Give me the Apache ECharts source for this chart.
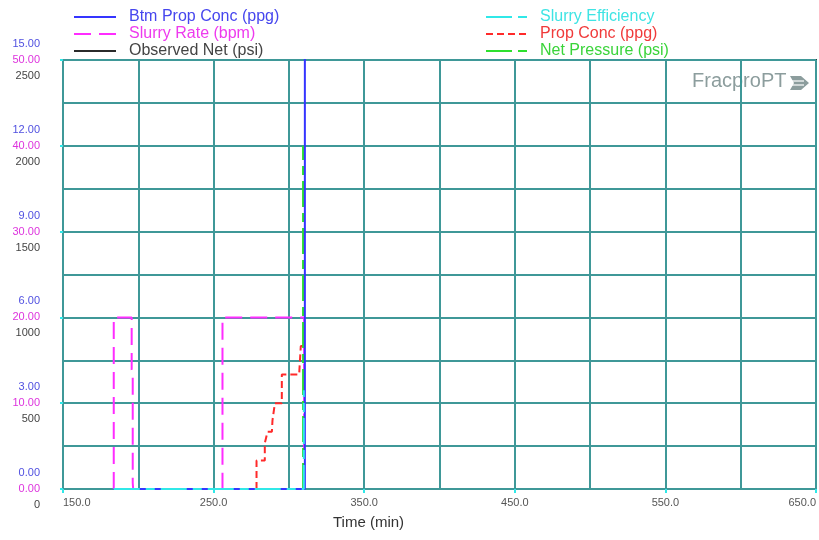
<!DOCTYPE html>
<html>
<head>
<meta charset="utf-8">
<script src="https://cdn.jsdelivr.net/npm/echarts@6/dist/echarts.min.js"></script>
<style>html,body{margin:0;padding:0;background:#fff}#c{width:819px;height:540px}</style>
</head>
<body>
<div id="c"></div>
<script>
// ---- Data (time in minutes) ----
const xTicks = [150, 650];               // time axis range, labels every 100
const rateTicks = [0, 50];               // Slurry Rate (bpm)
const concTicks = [0, 15];               // Btm Prop Conc / Prop Conc (ppg)
const pressTicks = [0, 2500];            // Net Pressure / Observed Net (psi)

const btmPropConc = [[183.7, 0], [310.6, 0], [310.6, 15.5]];
const slurryRate = [[183.7, 0], [183.7, 20], [195.6, 20], [195.6, 13.9], [196.3, 13.6], [196.3, 0.7], [196.6, 0],
                    [255.9, 0], [255.9, 20], [310.1, 20], [310.1, 0]];
const observedNet = [];
const slurryEfficiency = [[183.7, 0], [309.9, 0], [309.9, 23]];
const propConc = [[278.5, 0], [278.5, 1.0], [284.0, 1.0], [284.0, 1.6], [285.8, 2.0], [288.7, 2.0], [289.1, 2.4],
                  [290.7, 3.0], [295.3, 3.0], [295.3, 4.0], [306.8, 4.0], [307.9, 5.0], [309.6, 5.0]];
const netPressure = [[309.4, 0], [309.4, 2000]];

const C = {
  blue: '#3535ff', magenta: '#ff2cff', black: '#2a2a2a',
  cyan: '#30e8e8', red: '#ff2a2a', green: '#2ee02e', grid: '#3f9898'
};

const chart = echarts.init(document.getElementById('c'), null, {renderer: 'canvas'});

const gridLine = {show: true, lineStyle: {color: C.grid, width: 2}};
const font = 'Liberation Sans, Arial';

const option = {
  animation: false,
  grid: {left: 63, right: 1, top: 60, bottom: 51, show: true, borderColor: '#3a3a3a', borderWidth: 2, containLabel: false},
  legend: [
    {
      orient: 'vertical', left: 68, top: 4, itemWidth: 42, itemHeight: 12, itemGap: 1,
      textStyle: {fontSize: 16, fontFamily: font, padding: [0, 0, 0, 8]},
      itemStyle: {opacity: 0},
      selectedMode: false,
      data: [
        {name: 'Btm Prop Conc (ppg)', textStyle: {color: '#4646ee'}},
        {name: 'Slurry Rate (bpm)', textStyle: {color: '#ee3aee'}},
        {name: 'Observed Net (psi)', textStyle: {color: '#444'}}
      ]
    },
    {
      orient: 'vertical', left: 480, top: 4, itemWidth: 42, itemHeight: 12, itemGap: 1,
      textStyle: {fontSize: 16, fontFamily: font, padding: [0, 0, 0, 7]},
      itemStyle: {opacity: 0},
      selectedMode: false,
      data: [
        {name: 'Slurry Efficiency', textStyle: {color: '#3ee4e4'}},
        {name: 'Prop Conc (ppg)', textStyle: {color: '#f03a3a'}},
        {name: 'Net Pressure (psi)', textStyle: {color: '#3ad43a'}}
      ]
    }
  ],
  xAxis: {
    type: 'value', min: xTicks[0], max: xTicks[1], interval: 100,
    axisLine: {show: false},
    axisTick: {show: true, length: 4, lineStyle: {color: C.cyan, width: 2}},
    axisLabel: {color: '#555', fontSize: 11, fontFamily: font, margin: 8,
      formatter: v => v.toFixed(1), alignMinLabel: 'left', alignMaxLabel: 'right'},
    splitLine: gridLine,
    minorTick: {show: false, splitNumber: 2},
    minorSplitLine: gridLine
  },
  yAxis: [
    {
      type: 'value', min: rateTicks[0], max: rateTicks[1], interval: 10, position: 'left',
      axisLine: {show: false},
      axisTick: {show: true, length: 3, lineStyle: {color: C.cyan, width: 2}},
      axisLabel: {color: '#dd33dd', fontSize: 11, fontFamily: font, margin: 23,
        formatter: v => v.toFixed(2)},
      splitLine: gridLine,
      minorTick: {show: false, splitNumber: 2},
      minorSplitLine: gridLine
    },
    {
      type: 'value', min: concTicks[0], max: concTicks[1], interval: 3, position: 'left',
      axisLine: {show: false}, axisTick: {show: false}, splitLine: {show: false},
      axisLabel: {color: '#5050e0', fontSize: 11, fontFamily: font, margin: 23, lineHeight: 16,
        formatter: v => v.toFixed(2) + '\n \n '}
    },
    {
      type: 'value', min: pressTicks[0], max: pressTicks[1], interval: 500, position: 'left',
      axisLine: {show: false}, axisTick: {show: false}, splitLine: {show: false},
      axisLabel: {color: '#444', fontSize: 11, fontFamily: font, margin: 23, lineHeight: 16,
        formatter: v => ' \n \n' + v}
    },
    {
      type: 'value', min: 0, max: 100, show: false
    }
  ],
  series: [
    {name: 'Observed Net (psi)', type: 'line', yAxisIndex: 2, data: observedNet, symbol: 'none',
      lineStyle: {color: C.black, width: 2}, itemStyle: {color: C.black}},
    {name: 'Slurry Rate (bpm)', type: 'line', yAxisIndex: 0, data: slurryRate, symbol: 'none',
      lineStyle: {color: C.magenta, width: 2, type: [17, 8]}, itemStyle: {color: C.magenta}},
    {name: 'Prop Conc (ppg)', type: 'line', yAxisIndex: 1, data: propConc, symbol: 'none',
      lineStyle: {color: C.red, width: 2, type: [7, 4]}, itemStyle: {color: C.red}},
    {name: 'Net Pressure (psi)', type: 'line', yAxisIndex: 2, data: netPressure, symbol: 'none',
      lineStyle: {color: C.green, width: 2, type: [26, 6, 9, 6]}, itemStyle: {color: C.green}},
    {name: 'Btm Prop Conc (ppg)', type: 'line', yAxisIndex: 1, data: btmPropConc, symbol: 'none',
      lineStyle: {color: C.blue, width: 2}, itemStyle: {color: C.blue}},
    {name: 'Slurry Efficiency', type: 'line', yAxisIndex: 3, data: slurryEfficiency, symbol: 'none',
      lineStyle: {color: C.cyan, width: 2, type: [26, 6, 9, 6]}, itemStyle: {color: C.cyan}}
  ],
  graphic: [
    {type: 'text', left: 333, top: 515, style: {text: 'Time (min)', fontSize: 15, fill: '#333', fontFamily: font}},
    {type: 'text', left: 692, top: 71, style: {text: 'FracproPT', fontSize: 20, fill: '#8c9d9d', fontFamily: font}},
    {type: 'polygon', shape: {points: [[790, 76], [801, 76], [809, 83], [801, 90], [790, 90], [794, 83]]},
      style: {fill: '#8c9d9d'}},
    {type: 'line', shape: {x1: 790, y1: 81, x2: 804, y2: 81}, style: {stroke: '#fff', lineWidth: 1.2}},
    {type: 'line', shape: {x1: 790, y1: 85, x2: 804, y2: 85}, style: {stroke: '#fff', lineWidth: 1.2}}
  ]
};
chart.setOption(option);
</script>
</body>
</html>
